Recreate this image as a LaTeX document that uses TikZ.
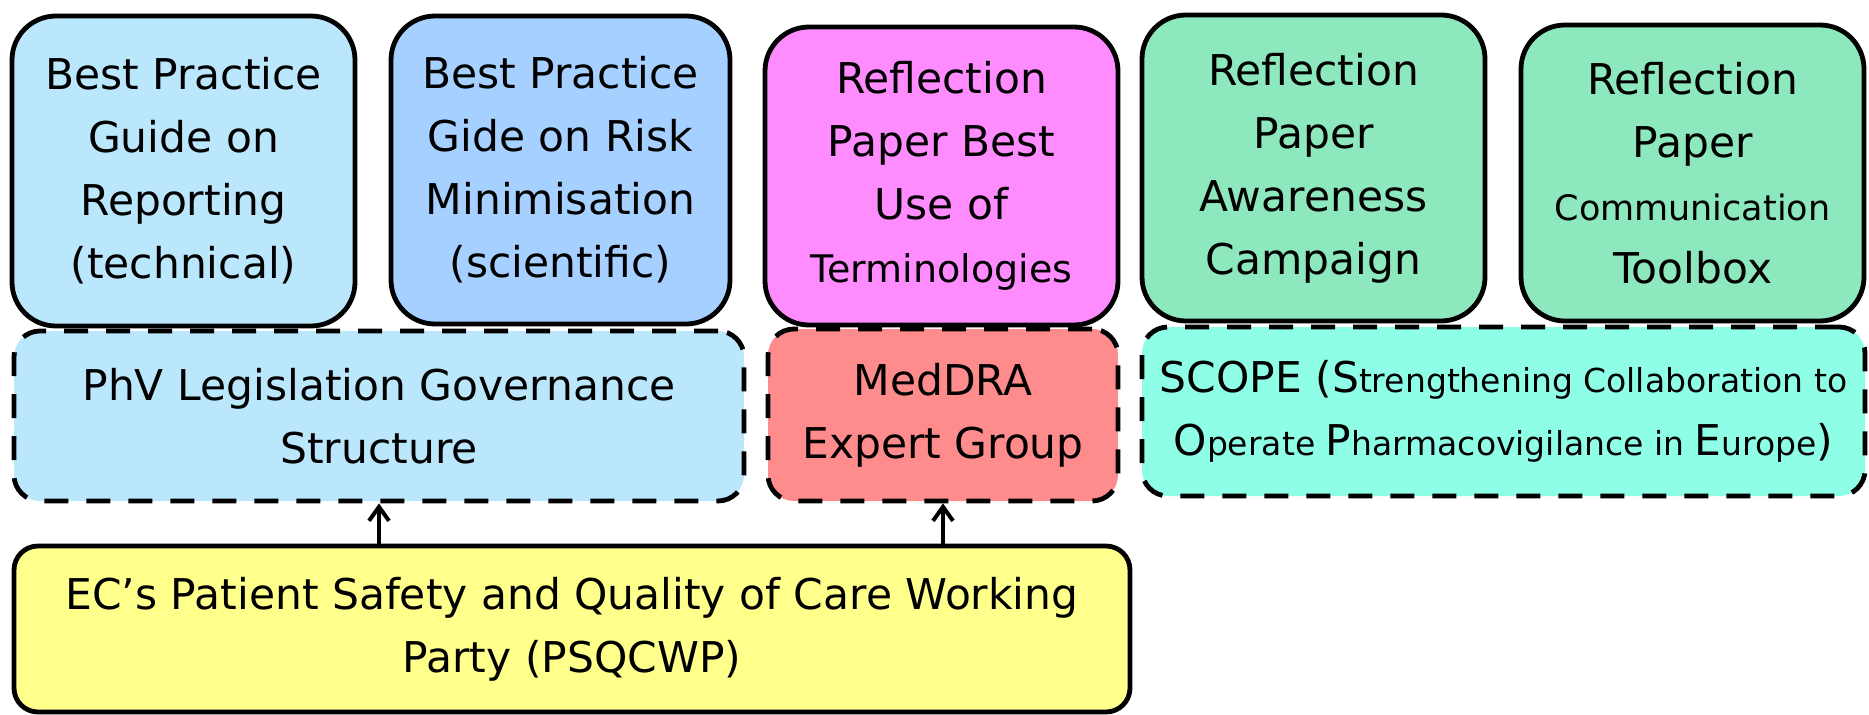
\documentclass[tikz,border=0pt]{standalone}
\usepackage{fontspec}
\setmainfont{DejaVu Sans}
\usetikzlibrary{arrows.meta}

\definecolor{guideblue}{HTML}{BBE7FD}
\definecolor{riskblue}{HTML}{A6D0FF}
\definecolor{paperpink}{HTML}{FF8CFF}
\definecolor{papergreen}{HTML}{8EE8BE}
\definecolor{groupred}{HTML}{FF8C8C}
\definecolor{scopeaqua}{HTML}{8EFFE6}
\definecolor{partyyellow}{HTML}{FFFF8C}

% smaller type inside the boxes
\newcommand\smtxt{\fontsize{16.5}{31}\selectfont}
\newcommand\midtxt{\fontsize{19}{31}\selectfont}
\newcommand\lowtxt{\fontsize{17.5}{31}\selectfont}

\begin{document}
\begin{tikzpicture}[x=0.5pt, y=0.5pt, >={Straight Barb[length=7pt,width=10pt]},
    font=\fontsize{21.2}{31.5}\selectfont,
    doc/.style={draw, line width=2.4pt, rounded corners=22pt, align=center, inner sep=0pt},
    body/.style={draw, line width=2.4pt, dash pattern=on 12pt off 9pt, rounded corners=13pt, align=center, inner sep=0pt}]
    \useasboundingbox (0,0) rectangle (1869,714);
    % documents on top
    \node[doc, fill=guideblue, minimum width=171.5pt, minimum height=155pt] (bpgReport) at (183.5,543)
        {Best Practice\\Guide on\\Reporting\\(technical)};
    \node[doc, fill=riskblue, minimum width=169.5pt, minimum height=154pt] (bpgRisk) at (560.5,544)
        {Best Practice\\Gide on Risk\\Minimisation\\(scientific)};
    \node[doc, fill=paperpink, minimum width=176.5pt, minimum height=149pt] (rpTerm) at (941.5,538)
        {Reflection\\Paper Best\\Use of\\{\midtxt Terminologies}};
    \node[doc, fill=papergreen, minimum width=171.5pt, minimum height=153pt] (rpAware) at (1313.5,546)
        {Reflection\\Paper\\Awareness\\Campaign};
    \node[doc, fill=papergreen, minimum width=171.5pt, minimum height=148pt] (rpToolbox) at (1692.5,541)
        {Reflection\\Paper\\{\lowtxt Communication}\\Toolbox};
    % bodies behind them
    \node[body, fill=guideblue, minimum width=365pt, minimum height=85pt] (phvGov) at (379,298)
        {PhV Legislation Governance\\Structure};
    \node[body, fill=groupred, minimum width=175pt, minimum height=86pt] (meddra) at (943,299)
        {MedDRA\\Expert Group};
    \node[body, fill=scopeaqua, minimum width=361.5pt, minimum height=84.5pt] (scope) at (1503.5,302.5)
        {SCOPE (S{\smtxt trengthening Collaboration to}\\O{\smtxt perate }P{\smtxt harmacovigilance in }E{\smtxt urope})};
    \node[doc, rounded corners=12pt, fill=partyyellow, minimum width=558pt, minimum height=83pt] (psqcwp) at (572,85)
        {EC’s Patient Safety and Quality of Care Working\\Party (PSQCWP)};
    \draw[->, line width=2pt] (psqcwp.north -| phvGov) -- (phvGov.south);
    \draw[->, line width=2pt] (psqcwp.north -| meddra) -- (meddra.south);
\end{tikzpicture}
\end{document}
